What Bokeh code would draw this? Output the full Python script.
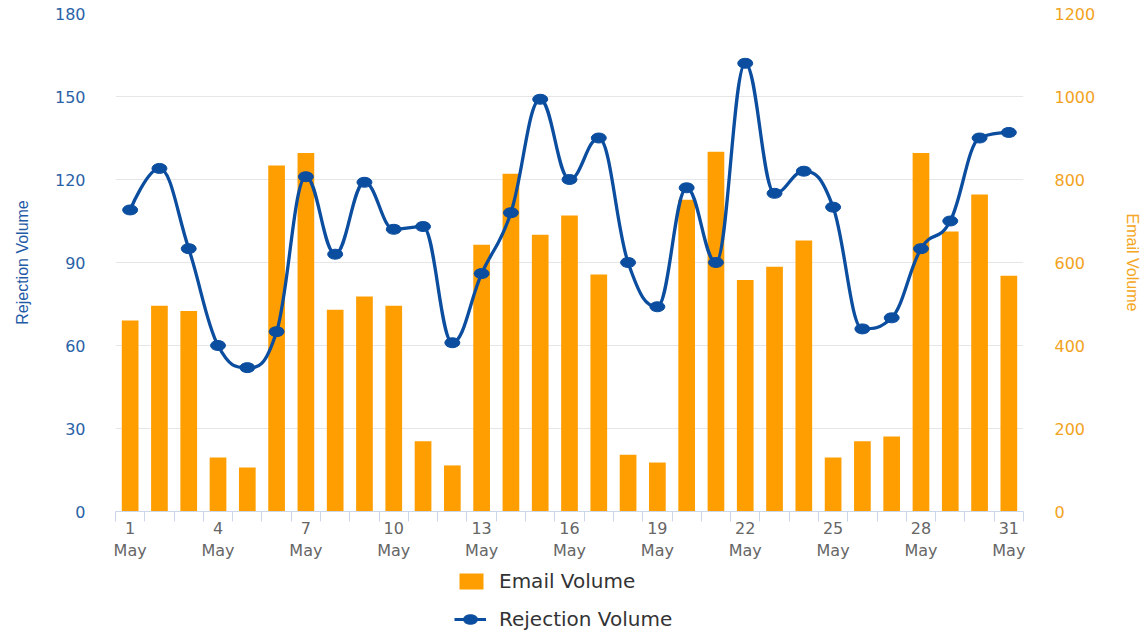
from bokeh.plotting import figure
from bokeh.models import Range1d, LinearAxis, FixedTicker, Legend, LegendItem
from bokeh.layouts import column
from bokeh.embed import file_html
from bokeh.resources import INLINE

# ---- data ----
days = list(range(1, 32))
month = "May"
rejection_volume = [109, 124, 95, 60, 52, 65, 121, 93, 119, 102, 103, 61, 86, 108, 149, 120,
                    135, 90, 74, 117, 90, 162, 115, 123, 110, 66, 70, 95, 105, 135, 137]
email_volume = [460, 496, 483, 130, 106, 834, 864, 486, 518, 496, 169, 111, 643, 814, 667, 713,
                571, 137, 118, 751, 867, 558, 590, 653, 130, 169, 181, 864, 675, 764, 568]
left_ticks = [0, 30, 60, 90, 120, 150, 180]
right_ticks = [0, 200, 400, 600, 800, 1000, 1200]
label_days = [1, 4, 7, 10, 13, 16, 19, 22, 25, 28, 31]
series_names = ["Email Volume", "Rejection Volume"]

BLUE = "#0b4d9f"
ORANGE = "#ff9e00"


def spline_segments(xs, ys, smoothing=1.5, denom=2.5):
    """Highcharts-style spline control points, derived from the data points."""
    n = len(xs)
    lc = [(x, y) for x, y in zip(xs, ys)]
    rc = [(x, y) for x, y in zip(xs, ys)]
    for i in range(1, n - 1):
        px, py = xs[i], ys[i]
        lx, ly = xs[i - 1], ys[i - 1]
        nx, ny = xs[i + 1], ys[i + 1]
        lcx = (smoothing * px + lx) / denom
        lcy = (smoothing * py + ly) / denom
        rcx = (smoothing * px + nx) / denom
        rcy = (smoothing * py + ny) / denom
        if rcx != lcx:
            corr = ((rcy - lcy) * (rcx - px)) / (rcx - lcx) + py - rcy
            lcy += corr
            rcy += corr
        if lcy > ly and lcy > py:
            lcy = max(ly, py)
            rcy = 2 * py - lcy
        elif lcy < ly and lcy < py:
            lcy = min(ly, py)
            rcy = 2 * py - lcy
        if rcy > ny and rcy > py:
            rcy = max(ny, py)
            lcy = 2 * py - rcy
        elif rcy < ny and rcy < py:
            rcy = min(ny, py)
            lcy = 2 * py - rcy
        lc[i] = (lcx, lcy)
        rc[i] = (rcx, rcy)
    seg = dict(x0=[], y0=[], x1=[], y1=[], cx0=[], cy0=[], cx1=[], cy1=[])
    for i in range(1, n):
        seg["x0"].append(xs[i - 1]); seg["y0"].append(ys[i - 1])
        seg["x1"].append(xs[i]); seg["y1"].append(ys[i])
        seg["cx0"].append(rc[i - 1][0]); seg["cy0"].append(rc[i - 1][1])
        seg["cx1"].append(lc[i][0]); seg["cy1"].append(lc[i][1])
    return seg


p = figure(width=1144, height=564, x_range=Range1d(0.5, 31.5), y_range=Range1d(0, 180),
           output_backend="svg", toolbar_location=None,
           min_border_left=115, min_border_right=118, min_border_top=13, min_border_bottom=53)
p.outline_line_color = None
p.background_fill_color = "white"
p.border_fill_color = "white"
p.extra_y_ranges = {"email": Range1d(0, 1200)}

# grid
p.xgrid.visible = False
p.ygrid.ticker = FixedTicker(ticks=left_ticks)
p.ygrid.grid_line_color = "#e6e6e6"
p.ygrid.grid_line_width = 1

# x axis
xa = p.xaxis[0]
xa.ticker = FixedTicker(ticks=label_days, minor_ticks=[d - 0.5 for d in days] + [days[-1] + 0.5])
xa.major_label_overrides = {d: f"{d}\n{month}" for d in label_days}
xa.axis_line_color = "#ccd6eb"
xa.major_tick_line_color = None
xa.major_tick_out = 0
xa.major_tick_in = 0
xa.minor_tick_line_color = "#ccd6eb"
xa.minor_tick_out = 10
xa.minor_tick_in = 0
xa.major_label_standoff = -3
xa.major_label_text_font = "DejaVu Sans"
xa.major_label_text_font_size = "16px"
xa.major_label_text_color = "#666666"

# left axis
ya = p.yaxis[0]
ya.ticker = FixedTicker(ticks=left_ticks)
ya.axis_line_color = None
ya.major_tick_line_color = None
ya.minor_tick_line_color = None
ya.major_tick_out = 0
ya.major_label_standoff = 30
ya.major_label_text_font = "DejaVu Sans"
ya.major_label_text_font_size = "16px"
ya.major_label_text_color = "#2a62a6"
ya.axis_label = "Rejection Volume"
ya.axis_label_text_font = "Liberation Sans"
ya.axis_label_text_font_size = "16px"
ya.axis_label_text_font_style = "normal"
ya.axis_label_text_color = "#1f5aa6"
ya.axis_label_standoff = 21

# right axis
ra = LinearAxis(y_range_name="email", ticker=FixedTicker(ticks=right_ticks))
ra.axis_line_color = None
ra.major_tick_line_color = None
ra.minor_tick_line_color = None
ra.major_tick_out = 0
ra.major_label_standoff = 31
ra.major_label_text_font = "DejaVu Sans"
ra.major_label_text_font_size = "16px"
ra.major_label_text_color = "#f2a31c"
ra.axis_label = "Email Volume"
ra.axis_label_text_font = "Liberation Sans"
ra.axis_label_text_font_size = "16px"
ra.axis_label_text_font_style = "normal"
ra.axis_label_text_color = "#f5a623"
ra.axis_label_standoff = 26
p.add_layout(ra, "right")

# bars
bar_style = dict(fill_color=ORANGE, line_color=None)
p.vbar(x=days, top=email_volume, width=0.57, y_range_name="email", **bar_style)

# spline line + markers
line_style = dict(line_color=BLUE, line_width=3.3)
dot_style = dict(width=15, height=10, width_units="screen", height_units="screen",
                 fill_color=BLUE, line_color=BLUE)
seg = spline_segments(days, rejection_volume)
p.bezier(x0=seg["x0"], y0=seg["y0"], x1=seg["x1"], y1=seg["y1"],
         cx0=seg["cx0"], cy0=seg["cy0"], cx1=seg["cx1"], cy1=seg["cy1"], **line_style)
p.ellipse(x=days, y=rejection_volume, **dot_style)

# ---- legend strip below the chart (proxy renderers lie far outside its visible range) ----
lg = figure(width=1144, height=68, x_range=Range1d(5000, 5001), y_range=Range1d(5000, 5001),
            output_backend="svg", toolbar_location=None,
            min_border_left=0, min_border_right=0, min_border_top=0, min_border_bottom=0)
lg.axis.visible = False
lg.grid.visible = False
lg.outline_line_color = None
lg.border_fill_color = "white"
lb = lg.vbar(x=days, top=email_volume, width=0.5, **bar_style)
ll = lg.line(x=days, y=rejection_volume, line_color=BLUE, line_width=3)
le = lg.ellipse(x=days, y=rejection_volume, **dot_style)

common = dict(border_line_color=None, background_fill_alpha=0, margin=0, padding=0,
              label_text_font="DejaVu Sans", label_text_font_size="20px",
              label_text_color="#333333")
# strip frame is aligned with the chart frame (left edge at x=115)
leg1 = Legend(items=[LegendItem(label=series_names[0], renderers=[lb])],
              location=(341, 39), glyph_width=30, glyph_height=20, label_height=20,
              label_standoff=13, **common)
leg2 = Legend(items=[LegendItem(label=series_names[1], renderers=[ll, le])],
              location=(339, 1), glyph_width=32, glyph_height=18, label_height=18,
              label_standoff=13, **common)
lg.add_layout(leg1)
lg.add_layout(leg2)

open("out.html", "w").write(file_html(column(p, lg, spacing=0), INLINE))
